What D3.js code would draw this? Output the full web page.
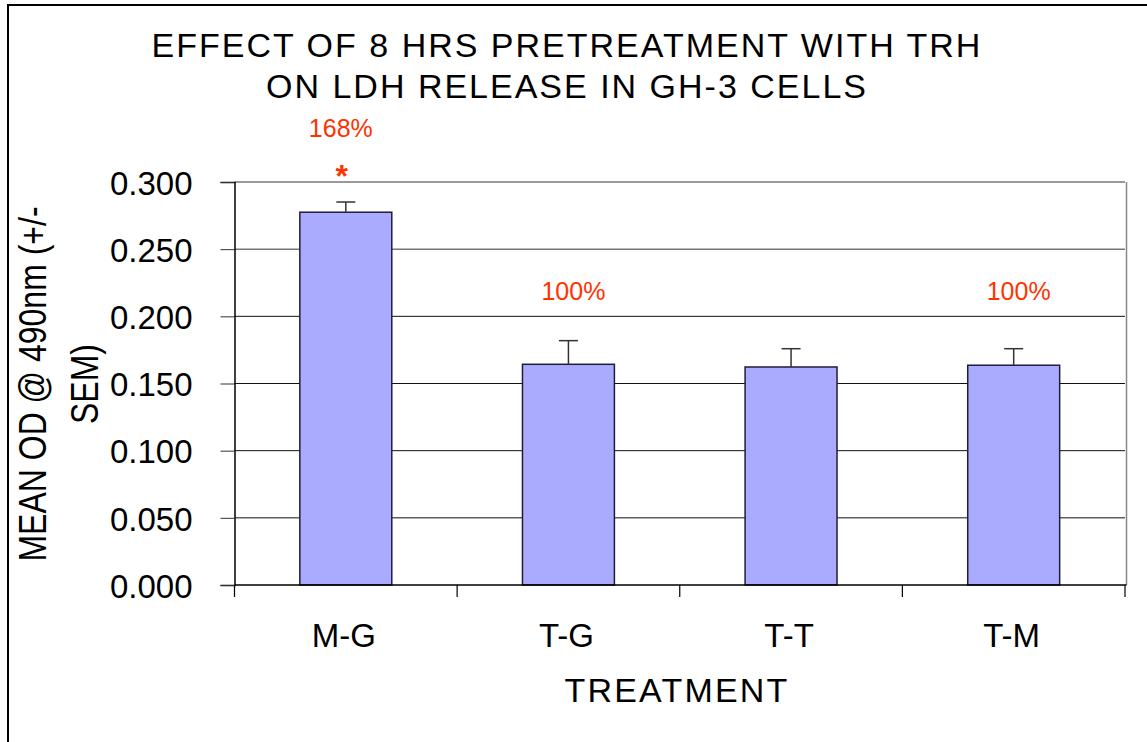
<!DOCTYPE html>
<html>
<head>
<meta charset="utf-8">
<script src="https://cdn.jsdelivr.net/npm/d3@7"></script>
<style>
  body { margin: 0; background: white; }
  svg { display: block; font-family: "Liberation Sans", Arial, sans-serif; }
</style>
</head>
<body>
<div id="chart"></div>
<script>
// data
var treatments = ["M-G", "T-G", "T-T", "T-M"];
var meanOD = [0.2775, 0.1643, 0.1623, 0.1636];
var semOD = [0.0076, 0.0176, 0.0136, 0.0123];
var pctLabels = ["168%", "100%", "", "100%"];
var pctLabelAt = [0.3335, 0.2122, 0, 0.2122];
var starLabels = ["*", "", "", ""];
var starAt = [0.2963, 0, 0, 0];
var yTicks = [0, 0.05, 0.1, 0.15, 0.2, 0.25, 0.3];
var titleLines = ["EFFECT OF 8 HRS PRETREATMENT WITH TRH", "ON LDH RELEASE IN GH-3 CELLS"];
var yTitleLines = ["MEAN OD @ 490nm (+/-", "SEM)"];

var W = 1147, H = 742;
var plot = { left: 234.5, right: 1125, top: 182, bottom: 585 };

var svg = d3.select("#chart")
  .append("svg")
  .attr("width", W)
  .attr("height", H);

// outer frame (right and bottom edges run off the picture)
svg.append("rect")
  .attr("x", 8).attr("y", 5)
  .attr("width", 1170).attr("height", 780)
  .attr("fill", "white")
  .attr("stroke", "black")
  .attr("stroke-width", 2);

var x = d3.scaleBand()
  .domain(treatments)
  .range([plot.left, plot.right])
  .paddingInner(0.587)
  .paddingOuter(0.2935);

var y = d3.scaleLinear()
  .domain([0, 0.3])
  .range([plot.bottom, plot.top]);

// gridlines
svg.append("g")
  .selectAll("line")
  .data(yTicks.filter(d => d > 0))
  .enter().append("line")
  .attr("x1", plot.left)
  .attr("x2", plot.right)
  .attr("y1", d => y(d))
  .attr("y2", d => y(d))
  .attr("stroke", d => d >= 0.25 ? "#777" : "#111")
  .attr("stroke-width", d => d >= 0.25 ? 1.5 : 1);

// right edge of plot area
svg.append("line")
  .attr("x1", plot.right + 1.5).attr("x2", plot.right + 1.5)
  .attr("y1", plot.top).attr("y2", plot.bottom)
  .attr("stroke", "#888").attr("stroke-width", 1.5);

// bars
svg.append("g")
  .selectAll("rect")
  .data(treatments)
  .enter().append("rect")
  .attr("x", d => x(d))
  .attr("y", (d, i) => y(meanOD[i]))
  .attr("width", x.bandwidth())
  .attr("height", (d, i) => y(0) - y(meanOD[i]))
  .attr("fill", "#aaaaff")
  .attr("stroke", "#1e1e3c")
  .attr("stroke-width", 1.5);

// error bars (upper only)
var eb = svg.append("g").attr("stroke", "#333").attr("stroke-width", 1.5);
treatments.forEach(function (d, i) {
  var cx = x(d) + x.bandwidth() / 2;
  eb.append("line")
    .attr("x1", cx).attr("x2", cx)
    .attr("y1", y(meanOD[i])).attr("y2", y(meanOD[i] + semOD[i]));
  eb.append("line")
    .attr("x1", cx - 9.5).attr("x2", cx + 9.5)
    .attr("y1", y(meanOD[i] + semOD[i])).attr("y2", y(meanOD[i] + semOD[i]));
});

// y axis
var yAxis = svg.append("g")
  .attr("transform", "translate(" + plot.left + ",0)")
  .call(d3.axisLeft(y).tickValues(yTicks).tickFormat(d3.format(".3f")).tickSize(14).tickPadding(28));
yAxis.select(".domain").attr("stroke", "#000").attr("stroke-width", 1.5);
yAxis.selectAll(".tick line").attr("stroke", "#333");
yAxis.selectAll("text")
  .style("font-size", "33px")
  .style("font-family", "Liberation Sans, Arial, sans-serif")
  .attr("fill", "#000")
  .attr("dy", "0.37em");

// x axis: ticks between categories
var xAxis = svg.append("g")
  .attr("transform", "translate(0," + plot.bottom + ")");
xAxis.append("line")
  .attr("x1", plot.left).attr("x2", plot.right + 1.5)
  .attr("stroke", "#000").attr("stroke-width", 1.5);
var bounds = treatments.map(d => x(d) - x.step() * x.paddingInner() / 2 + (d === treatments[0] ? -x.step() * (x.paddingOuter() - x.paddingInner() / 2) : 0));
bounds.push(plot.right);
xAxis.selectAll(".xt")
  .data(bounds)
  .enter().append("line")
  .attr("class", "xt")
  .attr("x1", d => d).attr("x2", d => d)
  .attr("y1", 0).attr("y2", 12)
  .attr("stroke", "#000").attr("stroke-width", 1.2);
xAxis.selectAll(".xl")
  .data(treatments)
  .enter().append("text")
  .attr("class", "xl")
  .attr("x", d => x(d) + x.bandwidth() / 2 - 2)
  .attr("y", 62)
  .attr("text-anchor", "middle")
  .style("font-size", "33px")
  .text(d => d);

// axis titles
svg.append("text")
  .attr("x", 677)
  .attr("y", 702)
  .attr("text-anchor", "middle")
  .style("font-size", "34px")
  .style("letter-spacing", "2.2px")
  .text("TREATMENT");

var yTitleX = [46, 98];
yTitleLines.forEach(function (t, i) {
  svg.append("text")
    .attr("transform", "translate(" + yTitleX[i] + ",384) scale(1.2,1) rotate(-90)")
    .attr("text-anchor", "middle")
    .style("font-size", "32px")
    .text(t);
});

// chart title
var titleY = [57, 98];
titleLines.forEach(function (t, i) {
  svg.append("text")
    .attr("x", 567)
    .attr("y", titleY[i])
    .attr("text-anchor", "middle")
    .style("font-size", "34px")
    .style("letter-spacing", "2px")
    .text(t);
});

// red annotations
svg.append("g")
  .selectAll("text.pct")
  .data(treatments)
  .enter().append("text")
  .attr("class", "pct")
  .attr("x", (d, i) => x(d) + x.bandwidth() / 2 + (meanOD[i] > 0.2 ? -5 : 5))
  .attr("y", (d, i) => y(pctLabelAt[i]))
  .attr("text-anchor", "middle")
  .attr("fill", "#ff3300")
  .style("font-size", "25px")
  .text((d, i) => pctLabels[i]);

svg.append("g")
  .selectAll("text.star")
  .data(treatments)
  .enter().append("text")
  .attr("class", "star")
  .attr("x", d => x(d) + x.bandwidth() / 2 - 4)
  .attr("y", (d, i) => y(starAt[i]))
  .attr("text-anchor", "middle")
  .attr("fill", "#ff3300")
  .style("font-size", "32px")
  .style("font-weight", "bold")
  .text((d, i) => starLabels[i]);
</script>
</body>
</html>
